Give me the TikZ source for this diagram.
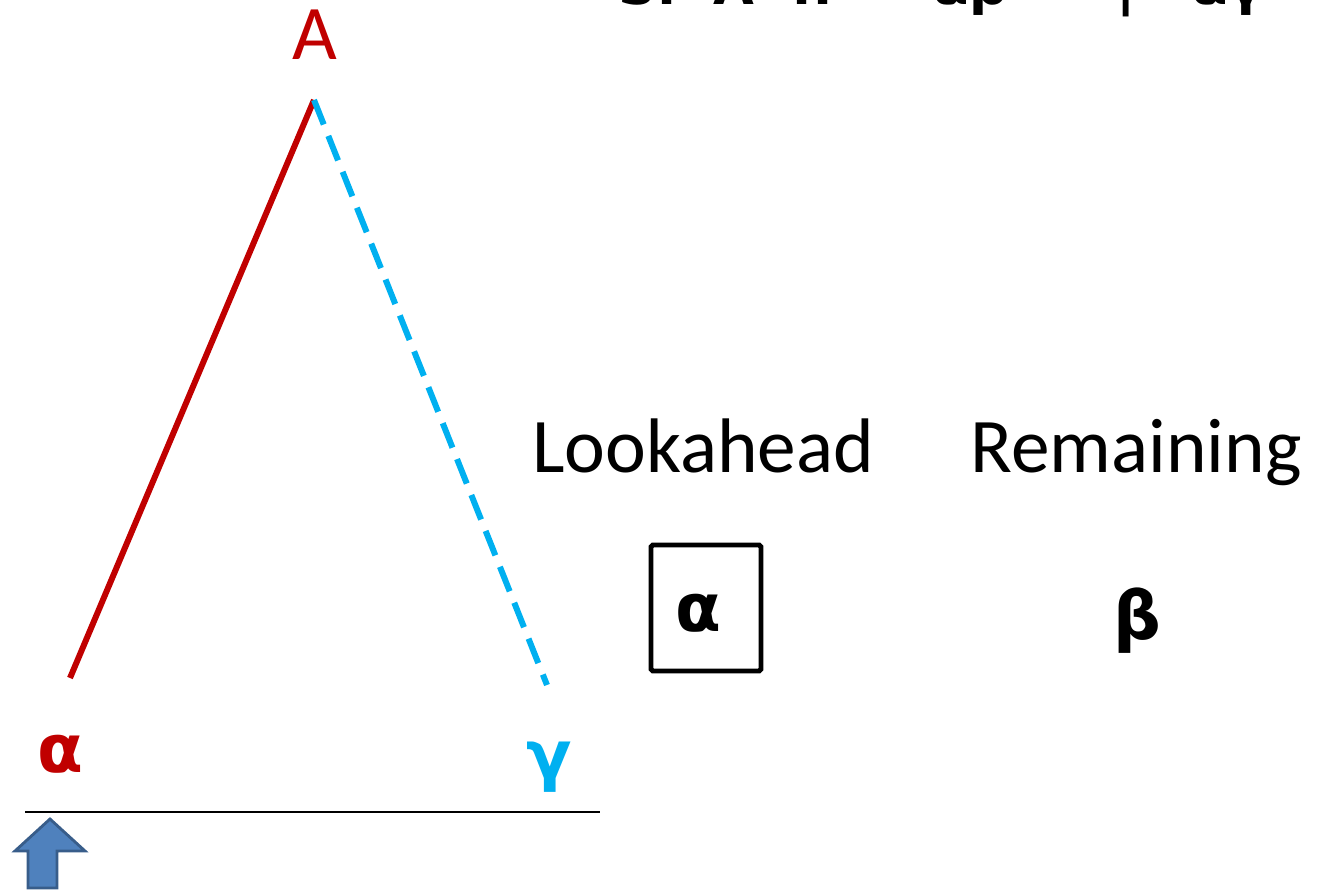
\documentclass[tikz,border=0pt]{standalone}
\usepackage{fontspec}
\setmainfont{Carlito}
\newfontfamily\greekfont{DejaVu Sans}
\definecolor{tred}{RGB}{192,0,0}
\definecolor{tblue}{RGB}{0,176,240}
\definecolor{arrfill}{RGB}{79,129,189}
\definecolor{arrline}{RGB}{56,93,138}
\tikzset{
  sym/.style={font=\greekfont\bfseries\fontsize{38}{40}\selectfont},
  lbl/.style={font=\fontsize{44}{48}\selectfont},
}
\begin{document}
\begin{tikzpicture}[x=0.02cm,y=-0.02cm]
        \useasboundingbox(0,0)rectangle(1330,891);
        \coordinate(A)at(314,100);
        \coordinate(L)at(70,678);
        \coordinate(R)at(547,685);
        \coordinate(b1)at(25,812);
        \coordinate(b2)at(600,812);
        \draw[tred,line width=3.4pt](L)--(A);
        \draw[tblue,line width=3.4pt,dash pattern=on 15pt off 7pt](A)--(R);
        \draw[line width=1.2pt](b1)--(b2);
        \draw[arrline,fill=arrfill,line width=1.6pt](50,819)--(85,851)--(57,851)--(57,888)--(28,888)--(28,851)--(15,851)--cycle;
        \node[tred,lbl,anchor=base](top)at(315,60){A};
        \node[tred,sym,anchor=base](la)at(60,773){α};
        \node[tblue,sym,anchor=base](lg)at(549,779){γ};
        \node[font=\greekfont\bfseries\fontsize{30}{34}\selectfont,anchor=base west](rule)at(612,5){S:\ \ A\ \ ::=\ \ \ αβ\ \ \ \ \ \ |\ \ \ αγ};
        \node[lbl,anchor=base](look)at(703,473){Lookahead};
        \node[lbl,anchor=base](rem)at(1136,473){Remaining};
        \node[draw,line width=2.8pt,rounded corners=1pt,minimum width=2.2cm,minimum height=2.52cm](box)at(706,608){};
        \node[sym,anchor=base](ba)at(698,632){α};
        \node[sym,anchor=base](bb)at(1137,640){β};
\end{tikzpicture}
\end{document}
